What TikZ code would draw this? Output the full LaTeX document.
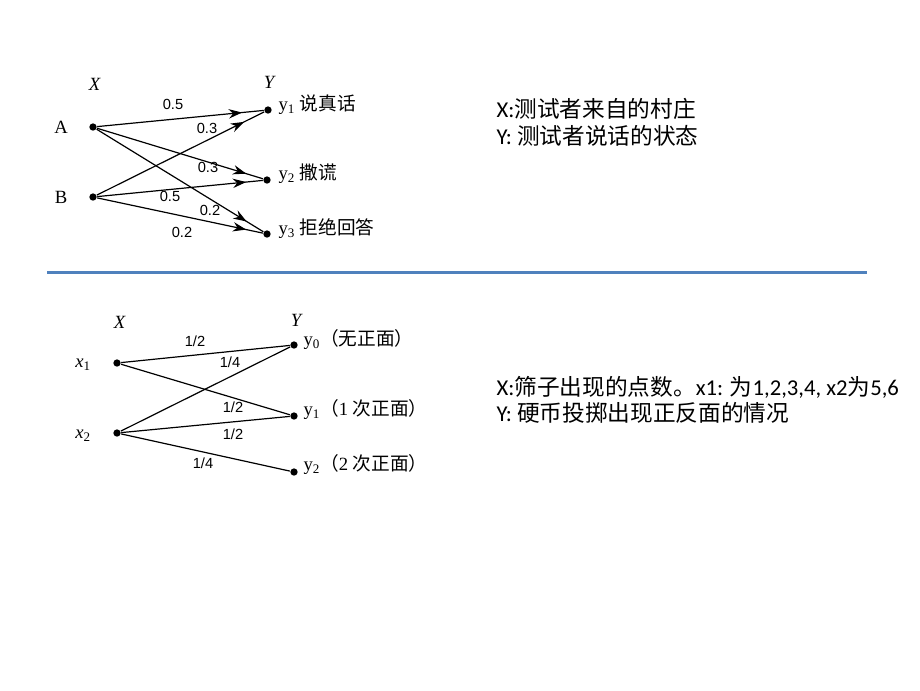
\documentclass[tikz,border=0pt]{standalone}
\usepackage{fontspec}
\setmainfont{Liberation Serif}
\newfontfamily\cjk{Noto Sans CJK SC}
\newfontfamily\calib{Carlito}
\newfontfamily\arial{Liberation Sans}
\usetikzlibrary{arrows.meta}
\usetikzlibrary{decorations.markings}
\newcommand{\zh}[1]{{\cjk\fontsize{14}{16}\selectfont #1}}
\newcommand{\rzh}[1]{{\cjk\fontsize{17}{20}\selectfont #1}}

\begin{document}
\begin{tikzpicture}[x=0.75pt,y=0.75pt,yscale=-1,xscale=1,line width=0.9pt,
  pt/.style={circle,fill=black,inner sep=0pt,minimum size=5.5pt},
  arr/.style={postaction={decorate},decoration={markings,mark=at position #1 with {\arrow{Stealth[length=10pt,width=7pt]}}}},
  lab/.style={inner sep=0.75pt,font=\fontsize{14}{16}\selectfont},
  prob/.style={inner sep=0.75pt,font=\arial\fontsize{11}{13}\selectfont},
  rtext/.style={anchor=base west,inner sep=0pt,font=\calib\fontsize{17}{20}\selectfont}]
\useasboundingbox (0,0) rectangle (920,690);

%Top channel: nodes
\node [pt] (A) at (93,127) {};
\node [pt] (B) at (93,197) {};
\node [pt] (ya) at (268,110) {};
\node [pt] (yb) at (267,180) {};
\node [pt] (yc) at (267,234) {};

% Text Node
\node [lab] (tA) at (61,127) {A};
\node [lab] (tB) at (61,197) {B};
\node [lab] (tX) at (95,84) {\textit{X}};
\node [lab] (tY) at (270,82) {\textit{Y}};
\node [lab,anchor=west] (tya) at (277,105) {y\textsubscript{1} \zh{说真话}};
\node [lab,anchor=west] (tyb) at (277,174) {y\textsubscript{2} \zh{撒谎}};
\node [lab,anchor=west] (tyc) at (277,229) {y\textsubscript{3} \zh{拒绝回答}};

%Straight Lines with arrows
\draw [arr=0.87] (A) -- (ya);
\draw [arr=0.9] (A) -- (yb);
\draw [arr=0.9] (A) -- (yc);
\draw [arr=0.88] (B) -- (ya);
\draw [arr=0.9] (B) -- (yb);
\draw [arr=0.9] (B) -- (yc);

% Text Node
\node [prob] (p1) at (173,104) {0.5};
\node [prob] (p2) at (207,128) {0.3};
\node [prob] (p3) at (208,167) {0.3};
\node [prob] (p4) at (170,196) {0.5};
\node [prob] (p5) at (210,210) {0.2};
\node [prob] (p6) at (182,232) {0.2};

% Text Node
\node [rtext] (dx1) at (496,117) {X:\rzh{测试者来自的村庄}};
\node [rtext] (dy1) at (496,144) {Y: \rzh{测试者说话的状态}};

%Separator
\draw [color={rgb, 255:red, 79; green, 129; blue, 189}, line width=2.25pt] (47,272) -- (867,272);

%Bottom channel: nodes
\node [pt] (xa) at (117,363) {};
\node [pt] (xb) at (117,433) {};
\node [pt] (za) at (294,345) {};
\node [pt] (zb) at (294,416) {};
\node [pt] (zc) at (294,472) {};

% Text Node
\node [lab] (tX2) at (120,322) {\textit{X}};
\node [lab] (tY2) at (297,320) {\textit{Y}};
\node [lab] (txa) at (83,365) {\textit{x}\textsubscript{1}};
\node [lab] (txb) at (83,436) {\textit{x}\textsubscript{2}};
\node [lab,anchor=west] (tza) at (302,340) {y\textsubscript{0}\zh{（无正面）}};
\node [lab,anchor=west] (tzb) at (302,410) {y\textsubscript{1}\zh{（}1 \zh{次正面）}};
\node [lab,anchor=west] (tzc) at (302,465) {y\textsubscript{2}\zh{（}2 \zh{次正面）}};

%Straight Lines
\draw (xa) -- (za);
\draw (xa) -- (zb);
\draw (xb) -- (za);
\draw (xb) -- (zb);
\draw (xb) -- (zc);

% Text Node
\node [prob] (q1) at (195,341) {1/2};
\node [prob] (q2) at (230,362) {1/4};
\node [prob] (q3) at (233,407) {1/2};
\node [prob] (q4) at (233,434) {1/2};
\node [prob] (q5) at (203,463) {1/4};

% Text Node
\node [rtext] (dx2) at (496,395) {X:\rzh{筛子出现的点数。}x1: \rzh{为}1,2,3,4, x2\rzh{为}5,6};
\node [rtext] (dy2) at (496,421) {Y: \rzh{硬币投掷出现正反面的情况}};

\end{tikzpicture}
\end{document}
